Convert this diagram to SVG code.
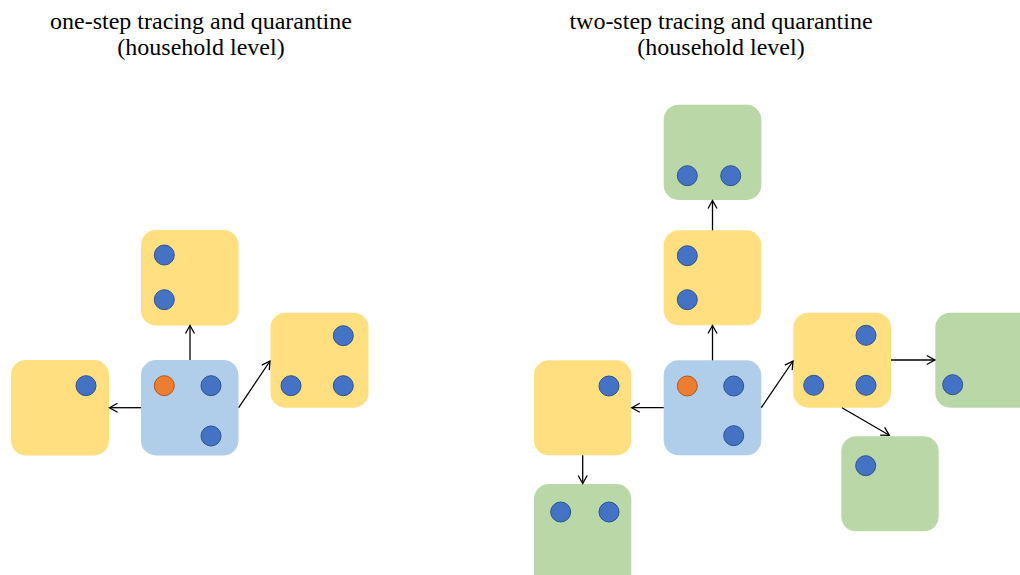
<svg xmlns="http://www.w3.org/2000/svg" width="1020" height="575" viewBox="0 0 1020 575">
  <style>
    .title { font-family: "Liberation Serif", "Times New Roman", serif; font-size: 24px; fill: #000; text-anchor: middle; }
    .yellow { fill: #FFDF80; }
    .blue { fill: #B0CEE9; }
    .green { fill: #B9D7A7; }
    .p { fill: #4472C4; stroke: #2F528F; stroke-width: 1; }
    .idx { fill: #ED7D31; stroke: #AE5A21; stroke-width: 1; }
    .edge { stroke: #000; stroke-width: 1.3; fill: none; marker-end: url(#arrow); }
  </style>
  <defs>
    <marker id="arrow" markerWidth="12" markerHeight="12" refX="9" refY="6" orient="auto" markerUnits="userSpaceOnUse">
      <path d="M1,1.5 L9,6 L1,10.5" fill="none" stroke="#000" stroke-width="1.3"/>
    </marker>
  </defs>

  <rect width="1020" height="575" fill="#fff"/>

  <!-- titles -->
  <text class="title" x="201" y="29">one-step tracing and quarantine</text>
  <text class="title" x="201" y="55">(household level)</text>
  <text class="title" x="721" y="29">two-step tracing and quarantine</text>
  <text class="title" x="721" y="55">(household level)</text>

  <!-- left panel: one-step -->
  <g id="one-index">
    <rect class="blue" x="141" y="360" width="97.5" height="95.5" rx="15"/>
    <circle class="idx" cx="164.3" cy="385.7" r="10"/>
    <circle class="p" cx="211" cy="385.7" r="10"/>
    <circle class="p" cx="211" cy="436" r="10"/>
  </g>
  <g id="one-up">
    <rect class="yellow" x="141" y="230" width="97.5" height="95.5" rx="15"/>
    <circle class="p" cx="164.3" cy="255" r="10"/>
    <circle class="p" cx="164.3" cy="299.7" r="10"/>
  </g>
  <g id="one-left">
    <rect class="yellow" x="11" y="360" width="98" height="95.5" rx="15"/>
    <circle class="p" cx="86" cy="385.7" r="10"/>
  </g>
  <g id="one-right">
    <rect class="yellow" x="270.5" y="312.7" width="98" height="95" rx="15"/>
    <circle class="p" cx="343.3" cy="335.7" r="10"/>
    <circle class="p" cx="291" cy="385.7" r="10"/>
    <circle class="p" cx="343.3" cy="385.7" r="10"/>
  </g>

  <!-- right panel: two-step -->
  <g id="two-index">
    <rect class="blue" x="663.7" y="360.3" width="97.6" height="95" rx="15"/>
    <circle class="idx" cx="687.3" cy="386" r="10"/>
    <circle class="p" cx="733.7" cy="386" r="10"/>
    <circle class="p" cx="733.7" cy="435.7" r="10"/>
  </g>
  <g id="two-up">
    <rect class="yellow" x="663.7" y="230.3" width="97.6" height="95" rx="15"/>
    <circle class="p" cx="687.3" cy="255.7" r="10"/>
    <circle class="p" cx="687.3" cy="299.7" r="10"/>
  </g>
  <g id="two-up-next">
    <rect class="green" x="663.7" y="104.7" width="97.6" height="95.3" rx="15"/>
    <circle class="p" cx="687.3" cy="175.7" r="10"/>
    <circle class="p" cx="730.7" cy="175.7" r="10"/>
  </g>
  <g id="two-left">
    <rect class="yellow" x="534" y="360.3" width="97.3" height="95" rx="15"/>
    <circle class="p" cx="609" cy="386" r="10"/>
  </g>
  <g id="two-left-next">
    <rect class="green" x="534" y="484" width="97.3" height="110" rx="15"/>
    <circle class="p" cx="560.7" cy="512" r="10"/>
    <circle class="p" cx="609" cy="512" r="10"/>
  </g>
  <g id="two-right">
    <rect class="yellow" x="793.3" y="312.7" width="97.7" height="95" rx="15"/>
    <circle class="p" cx="866" cy="335.3" r="10"/>
    <circle class="p" cx="813.7" cy="385.3" r="10"/>
    <circle class="p" cx="866" cy="385.3" r="10"/>
  </g>
  <g id="two-right-next">
    <rect class="green" x="935.3" y="312.7" width="110" height="95" rx="15"/>
    <circle class="p" cx="952.7" cy="384.7" r="10"/>
  </g>
  <g id="two-right-below">
    <rect class="green" x="841.3" y="436.3" width="97.4" height="95" rx="15"/>
    <circle class="p" cx="865.7" cy="465.7" r="10"/>
  </g>

  <!-- connectors -->
  <g id="connectors">
    <line class="edge" x1="190" y1="360" x2="190" y2="325.5"/>
    <line class="edge" x1="141" y1="407.7" x2="109.5" y2="407.7"/>
    <line class="edge" x1="238.7" y1="407.7" x2="270" y2="361"/>

    <line class="edge" x1="712.5" y1="360.3" x2="712.5" y2="325.5"/>
    <line class="edge" x1="712.5" y1="230.3" x2="712.5" y2="200.5"/>
    <line class="edge" x1="663.7" y1="407.7" x2="631.8" y2="407.7"/>
    <line class="edge" x1="582.7" y1="455.3" x2="582.7" y2="483.5"/>
    <line class="edge" x1="761.3" y1="407.7" x2="793" y2="361"/>
    <line class="edge" x1="891" y1="360" x2="934.8" y2="360"/>
    <line class="edge" x1="842" y1="407.7" x2="889.3" y2="435.3"/>
  </g>
</svg>
